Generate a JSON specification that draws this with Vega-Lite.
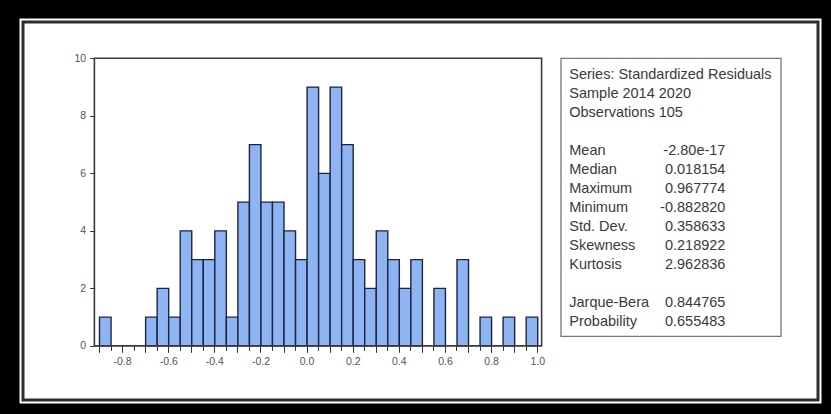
{
  "$schema": "https://vega.github.io/schema/vega-lite/v6.json",
  "autosize": {"type": "fit", "contains": "padding"},
  "width": 831,
  "height": 414,
  "padding": {"left": 21, "top": 20, "right": 11, "bottom": 12},
  "background": "#000000",
  "config": {
    "view": {"fill": "#ffffff", "stroke": "#ffffff", "strokeWidth": 7},
    "font": "Liberation Sans"
  },
  "datasets": {
    "bins": [
      {"bin_start": -0.9, "bin_end": -0.85, "count": 1},
      {"bin_start": -0.7, "bin_end": -0.65, "count": 1},
      {"bin_start": -0.65, "bin_end": -0.6, "count": 2},
      {"bin_start": -0.6, "bin_end": -0.55, "count": 1},
      {"bin_start": -0.55, "bin_end": -0.5, "count": 4},
      {"bin_start": -0.5, "bin_end": -0.45, "count": 3},
      {"bin_start": -0.45, "bin_end": -0.4, "count": 3},
      {"bin_start": -0.4, "bin_end": -0.35, "count": 4},
      {"bin_start": -0.35, "bin_end": -0.3, "count": 1},
      {"bin_start": -0.3, "bin_end": -0.25, "count": 5},
      {"bin_start": -0.25, "bin_end": -0.2, "count": 7},
      {"bin_start": -0.2, "bin_end": -0.15, "count": 5},
      {"bin_start": -0.15, "bin_end": -0.1, "count": 5},
      {"bin_start": -0.1, "bin_end": -0.05, "count": 4},
      {"bin_start": -0.05, "bin_end": 0.0, "count": 3},
      {"bin_start": 0.0, "bin_end": 0.05, "count": 9},
      {"bin_start": 0.05, "bin_end": 0.1, "count": 6},
      {"bin_start": 0.1, "bin_end": 0.15, "count": 9},
      {"bin_start": 0.15, "bin_end": 0.2, "count": 7},
      {"bin_start": 0.2, "bin_end": 0.25, "count": 3},
      {"bin_start": 0.25, "bin_end": 0.3, "count": 2},
      {"bin_start": 0.3, "bin_end": 0.35, "count": 4},
      {"bin_start": 0.35, "bin_end": 0.4, "count": 3},
      {"bin_start": 0.4, "bin_end": 0.45, "count": 2},
      {"bin_start": 0.45, "bin_end": 0.5, "count": 3},
      {"bin_start": 0.55, "bin_end": 0.6, "count": 2},
      {"bin_start": 0.65, "bin_end": 0.7, "count": 3},
      {"bin_start": 0.75, "bin_end": 0.8, "count": 1},
      {"bin_start": 0.85, "bin_end": 0.9, "count": 1},
      {"bin_start": 0.95, "bin_end": 1.0, "count": 1}
    ],
    "stats": [
      {"line": 0, "label": "Series: Standardized Residuals", "value": ""},
      {"line": 1, "label": "Sample 2014 2020", "value": ""},
      {"line": 2, "label": "Observations 105", "value": ""},
      {"line": 4, "label": "Mean", "value": "-2.80e-17"},
      {"line": 5, "label": "Median", "value": "0.018154"},
      {"line": 6, "label": "Maximum", "value": "0.967774"},
      {"line": 7, "label": "Minimum", "value": "-0.882820"},
      {"line": 8, "label": "Std. Dev.", "value": "0.358633"},
      {"line": 9, "label": "Skewness", "value": "0.218922"},
      {"line": 10, "label": "Kurtosis", "value": "2.962836"},
      {"line": 12, "label": "Jarque-Bera", "value": "0.844765"},
      {"line": 13, "label": "Probability", "value": "0.655483"}
    ]
  },
  "layer": [
    {
      "layer": [
        {
          "data": {"values": [{}]},
          "mark": {"type": "rect", "fill": null, "fillOpacity": 0, "stroke": "#2e2e2e", "strokeWidth": 3},
          "encoding": {
            "x": {"datum": -1.2295, "type": "quantitative"},
            "x2": {"datum": 2.2174},
            "y": {"datum": -1.882, "type": "quantitative"},
            "y2": {"datum": 11.263}
          }
        },
        {
          "data": {"name": "bins"},
          "mark": {"type": "rect", "fill": "#8fb4f3", "stroke": "#1c2440", "strokeWidth": 1.4},
          "encoding": {
            "x": {
              "field": "bin_start",
              "type": "quantitative",
              "bin": {"binned": true, "step": 0.05},
              "scale": {"domain": [-1.2295, 2.2174], "nice": false, "zero": false},
              "axis": {
                "values": [-0.9, -0.85, -0.8, -0.75, -0.7, -0.65, -0.6, -0.55, -0.5, -0.45, -0.4, -0.35, -0.3, -0.25, -0.2, -0.15, -0.1, -0.05, 0, 0.05, 0.1, 0.15, 0.2, 0.25, 0.3, 0.35, 0.4, 0.45, 0.5, 0.55, 0.6, 0.65, 0.7, 0.75, 0.8, 0.85, 0.9, 0.95, 1.0],
                "labelExpr": "abs(round(datum.value*100) % 20) == 0 ? replace(format(datum.value, '.1f'), '\u2212', '-') : ''",
                "offset": -54.7,
                "domain": false,
                "grid": false,
                "title": null,
                "tickColor": "#333333",
                "tickWidth": 1,
                "tickSize": {"condition": {"test": "abs(round(datum.value*100) % 10) == 0", "value": 7}, "value": 5},
                "labelColor": "#555555",
                "labelFontSize": 10.5,
                "labelPadding": 4,
                "labelOverlap": false,
                "labelFont": "Liberation Sans"
              }
            },
            "x2": {"field": "bin_end"},
            "y": {
              "field": "count",
              "type": "quantitative",
              "scale": {"domain": [-1.882, 11.263], "nice": false, "zero": false},
              "axis": {
                "values": [0, 2, 4, 6, 8, 10],
                "offset": -71.7,
                "domain": false,
                "grid": false,
                "title": null,
                "tickColor": "#333333",
                "tickSize": 5,
                "labelColor": "#555555",
                "labelFontSize": 10.5,
                "labelPadding": 4,
                "labelFont": "Liberation Sans"
              }
            },
            "y2": {"datum": 0}
          }
        },
        {
          "data": {"values": [{}]},
          "mark": {"type": "rect", "fill": null, "fillOpacity": 0, "stroke": "#3a3a3a", "strokeWidth": 1.6},
          "encoding": {
            "x": {"datum": -0.92, "type": "quantitative"},
            "x2": {"datum": 1.019},
            "y": {"datum": 0, "type": "quantitative"},
            "y2": {"datum": 10}
          }
        },
        {
          "data": {"values": [{}]},
          "mark": {"type": "rect", "fill": null, "fillOpacity": 0, "stroke": "#777777", "strokeWidth": 1.3},
          "encoding": {
            "x": {"datum": 1.103, "type": "quantitative"},
            "x2": {"datum": 2.057},
            "y": {"datum": 0.33, "type": "quantitative"},
            "y2": {"datum": 10}
          }
        }
      ]
    },
    {
      "data": {"name": "stats"},
      "layer": [
        {
          "mark": {"type": "text", "align": "left", "baseline": "middle", "fontSize": 14.5, "color": "#3a3a3a", "font": "Liberation Sans"},
          "encoding": {
            "x": {"datum": 1.139, "type": "quantitative"},
            "y": {"field": "line", "type": "quantitative", "scale": {"domain": [-2.776, 17.12], "reverse": true, "nice": false, "zero": false}, "axis": null},
            "text": {"field": "label"}
          }
        },
        {
          "mark": {"type": "text", "align": "right", "baseline": "middle", "fontSize": 14.5, "color": "#3a3a3a", "font": "Liberation Sans"},
          "encoding": {
            "x": {"datum": 1.816, "type": "quantitative"},
            "y": {"field": "line", "type": "quantitative"},
            "text": {"field": "value"}
          }
        }
      ]
    }
  ],
  "resolve": {"scale": {"y": "independent"}}
}
